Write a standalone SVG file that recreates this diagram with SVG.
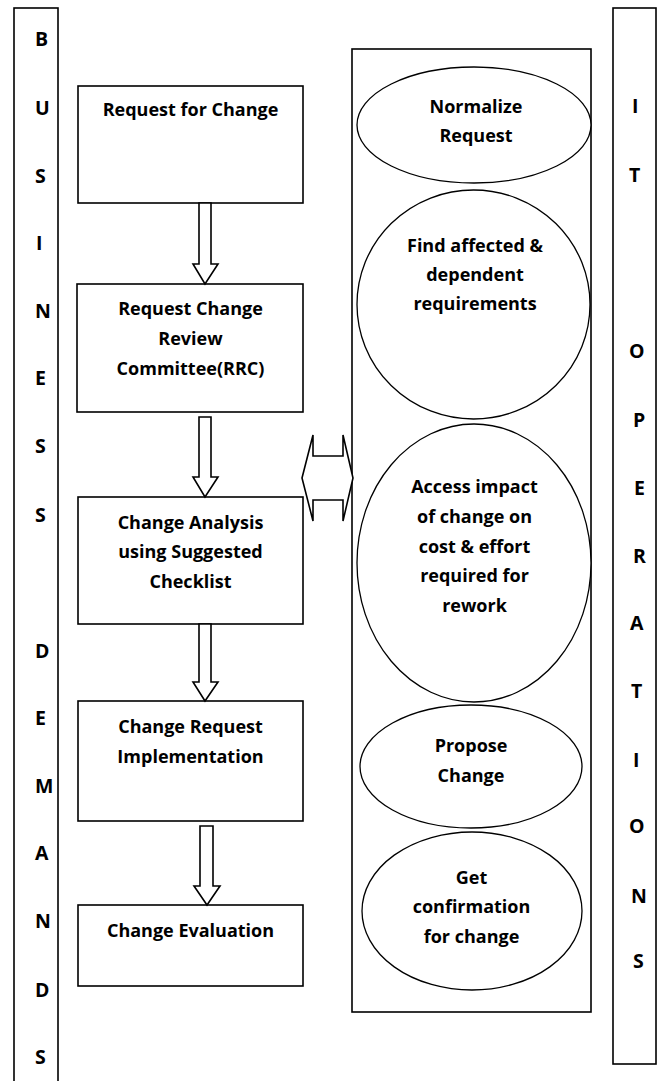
<svg xmlns="http://www.w3.org/2000/svg" width="660" height="1081" viewBox="0 0 660 1081">
<style>
  .frame { fill: #ffffff; stroke: #000000; stroke-width: 1.6; }
  .oval { fill: #ffffff; stroke: #000000; stroke-width: 1.3; }
  .arrow { fill: #ffffff; stroke: #000000; stroke-width: 1.6; stroke-linejoin: miter; }
  .t { font-family: "Open Sans", "Noto Sans", "Liberation Sans", sans-serif; font-weight: bold; font-size: 18px; fill: #000000; text-anchor: middle; }
  .l { font-family: "Open Sans", "Noto Sans", "Liberation Sans", sans-serif; font-weight: bold; font-size: 19.5px; fill: #000000; text-anchor: start; }
</style>
<rect width="660" height="1081" fill="#ffffff"/>

<g id="business-demands">
  <rect class="frame" x="14" y="8" width="44" height="1080"/>
  <text class="l" x="35" y="46">B</text>
  <text class="l" x="35" y="115">U</text>
  <text class="l" x="35" y="183">S</text>
  <text class="l" x="36" y="250">I</text>
  <text class="l" x="35" y="318">N</text>
  <text class="l" x="35" y="385">E</text>
  <text class="l" x="35" y="453">S</text>
  <text class="l" x="35" y="522">S</text>
  <text class="l" x="35" y="658">D</text>
  <text class="l" x="35" y="725">E</text>
  <text class="l" x="35" y="793">M</text>
  <text class="l" x="35" y="860">A</text>
  <text class="l" x="35" y="928">N</text>
  <text class="l" x="35" y="997">D</text>
  <text class="l" x="35" y="1064">S</text>
</g>

<g id="it-operations">
  <rect class="frame" x="613" y="8" width="43" height="1056"/>
  <text class="l" x="632" y="113">I</text>
  <text class="l" x="629" y="182">T</text>
  <text class="l" x="629" y="358">O</text>
  <text class="l" x="633" y="427">P</text>
  <text class="l" x="634" y="495">E</text>
  <text class="l" x="633" y="563">R</text>
  <text class="l" x="630" y="630">A</text>
  <text class="l" x="631" y="698">T</text>
  <text class="l" x="633" y="767">I</text>
  <text class="l" x="629" y="833">O</text>
  <text class="l" x="631" y="903">N</text>
  <text class="l" x="633" y="968">S</text>
</g>

<g id="it-container">
  <rect class="frame" x="352" y="49" width="239" height="963"/>
</g>

<g id="request-for-change">
  <rect class="frame" x="78" y="86" width="225" height="117"/>
  <text class="t" x="190.5" y="116">Request for Change</text>
</g>

<g id="rrc">
  <rect class="frame" x="77" y="284" width="226" height="128"/>
  <text class="t" x="190.5" y="315">Request Change</text>
  <text class="t" x="190.5" y="345">Review</text>
  <text class="t" x="190.5" y="375">Committee(RRC)</text>
</g>

<g id="change-analysis">
  <rect class="frame" x="78" y="497" width="225" height="127"/>
  <text class="t" x="190.5" y="529">Change Analysis</text>
  <text class="t" x="190.5" y="558">using Suggested</text>
  <text class="t" x="190.5" y="588">Checklist</text>
</g>

<g id="change-implementation">
  <rect class="frame" x="78" y="701" width="225" height="120"/>
  <text class="t" x="190.5" y="733">Change Request</text>
  <text class="t" x="190.5" y="763">Implementation</text>
</g>

<g id="change-evaluation">
  <rect class="frame" x="78" y="905" width="225" height="81"/>
  <text class="t" x="190.5" y="937">Change Evaluation</text>
</g>

<g id="normalize-request">
  <ellipse class="oval" cx="474" cy="125" rx="117" ry="58"/>
  <text class="t" x="476" y="113">Normalize</text>
  <text class="t" x="476" y="142">Request</text>
</g>

<g id="find-affected">
  <ellipse class="oval" cx="473.5" cy="304.5" rx="116.5" ry="114.5"/>
  <text class="t" x="475" y="252">Find affected &amp;</text>
  <text class="t" x="475" y="281">dependent</text>
  <text class="t" x="475" y="310">requirements</text>
</g>

<g id="access-impact">
  <ellipse class="oval" cx="474" cy="563" rx="117" ry="139"/>
  <text class="t" x="474.5" y="493">Access impact</text>
  <text class="t" x="474.5" y="523">of change on</text>
  <text class="t" x="474.5" y="553">cost &amp; effort</text>
  <text class="t" x="474.5" y="582">required for</text>
  <text class="t" x="474.5" y="612">rework</text>
</g>

<g id="propose-change">
  <ellipse class="oval" cx="471" cy="766.5" rx="111" ry="61.5"/>
  <text class="t" x="471" y="752">Propose</text>
  <text class="t" x="471" y="782">Change</text>
</g>

<g id="get-confirmation">
  <ellipse class="oval" cx="472" cy="911" rx="110" ry="79"/>
  <text class="t" x="471.5" y="884">Get</text>
  <text class="t" x="471.5" y="913">confirmation</text>
  <text class="t" x="471.5" y="943">for change</text>
</g>

<g id="connectors">
  <polygon class="arrow" points="199,203 211,203 211,264 218,264 205,284 193,264 199,264"/>
  <polygon class="arrow" points="199,417 211,417 211,477 218,477 205,497 193,477 199,477"/>
  <polygon class="arrow" points="199,624 211,624 211,682 218,682 205,701 193,682 199,682"/>
  <polygon class="arrow" points="200,826 213,826 213,886 220,886 207,905 194,886 200,886"/>
  <polygon class="arrow" points="302,478 313,435 313,456 343,456 343,435 353,478 343,521 343,500 313,500 313,521"/>
</g>
</svg>
